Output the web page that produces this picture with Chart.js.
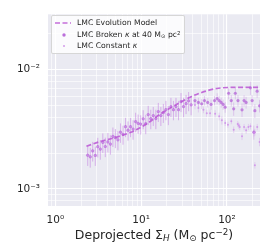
<!DOCTYPE html>
<html>
<head>
<meta charset="utf-8">
<script src="https://cdn.jsdelivr.net/npm/chart.js@4"></script>
<style>
    html, body { margin: 0; padding: 0; background: #fff; }
    #wrap { position: relative; width: 266px; height: 244px; font-family: 'DejaVu Sans', sans-serif; color: #262626; }
    #chart { position: absolute; left: 0; top: 0; }
    .legend { position: absolute; left: 51px; top: 15px; width: 134px; height: 39px; box-sizing: border-box;
              background: rgba(255,255,255,0.8); border: 1px solid rgba(204,204,204,0.8); border-radius: 2px; font-size: 7.7px; }
    .legend .row { position: absolute; left: 0; width: 100%; height: 10px; line-height: 10px; white-space: nowrap; }
    .legend .txt { position: absolute; left: 25px; top: 0; }
    .legend svg { position: absolute; left: 2px; top: 0; }
    .sub { font-size: 0.7em; position: relative; top: 0.25em; }
    .sup { font-size: 0.7em; position: relative; top: -0.45em; }
    .xlabel { position: absolute; left: 48px; width: 212px; top: 227px; text-align: center; font-size: 12.5px; line-height: 15px; white-space: nowrap; }
</style>
</head>
<body>
<div id="wrap">
    <canvas id="chart" width="266" height="244"></canvas>
    <div class="legend">
        <div class="row" style="top:2px">
            <svg width="20" height="10"><line x1="1" y1="5" x2="17" y2="5" stroke="rgba(186,85,211,0.85)" stroke-width="1.6" stroke-dasharray="5,2.5"/></svg>
            <span class="txt">LMC Evolution Model</span>
        </div>
        <div class="row" style="top:14px">
            <svg width="20" height="10"><circle cx="10" cy="5" r="1.7" fill="rgba(170,75,210,0.8)"/></svg>
            <span class="txt">LMC Broken <i>κ</i> at 40 M<span class="sub">⊙</span> pc<span class="sup">2</span></span>
        </div>
        <div class="row" style="top:25px">
            <svg width="20" height="10"><circle cx="10" cy="5" r="1" fill="rgba(200,130,230,0.8)"/></svg>
            <span class="txt">LMC Constant <i>κ</i></span>
        </div>
    </div>
    <div class="xlabel">Deprojected Σ<span class="sub"><i>H</i></span> (M<span class="sub">⊙</span> pc<span class="sup">−2</span>)</div>
</div>

<script>
// 축 범위
const xMin = 0.82, xMax = 243;
const yMin = 0.00072, yMax = 0.0291;
const xDecades = [0.1, 1, 10, 100];
const yDecades = [0.0001, 0.001, 0.01];

// 모델 곡선
const modelX = [2.3, 3.4, 5.1, 7.6, 11.5, 17.2, 25.8, 38.7, 50.8, 76, 131, 238];
const modelY = [0.00228, 0.00251, 0.00271, 0.00299, 0.0035, 0.0043, 0.0051, 0.00596, 0.00644, 0.00695, 0.0071, 0.0071];

// 40 이하 구간 (두 모델 공통)
const lowX = [2.38, 2.55, 2.72, 2.92, 3.12, 3.34, 3.57, 3.82, 4.09, 4.38, 4.68, 5.01, 5.36, 5.74, 6.14, 6.57, 7.03, 7.52, 8.05, 8.61,
              9.22, 9.87, 10.56, 11.3, 12.09, 12.94, 13.85, 14.82, 15.85, 16.96, 18.15, 19.42, 20.78, 22.24, 23.8, 25.47, 27.25, 29.16, 31.2, 33.39,
              35.73, 38.23];
const lowY = [0.00192, 0.00186, 0.00209, 0.00191, 0.00226, 0.00216, 0.00246, 0.00227, 0.00248, 0.00238, 0.00276, 0.00269, 0.00258, 0.00299, 0.00287, 0.00333, 0.00311, 0.00333, 0.00318, 0.00367,
              0.00355, 0.0035, 0.00387, 0.00353, 0.0042, 0.00389, 0.00412, 0.00389, 0.00445, 0.00412, 0.00437, 0.00462, 0.0042, 0.0049, 0.00462, 0.0049, 0.00462, 0.00539, 0.0049, 0.00519,
              0.00549, 0.00507];
const lowErr = [0.00036, 0.00035, 0.00039, 0.00035, 0.00042, 0.0004, 0.00046, 0.00042, 0.00046, 0.00044, 0.00051, 0.00049, 0.00047, 0.00055, 0.00052, 0.00061, 0.00057, 0.00061, 0.00059, 0.00068,
                0.00065, 0.00064, 0.0007, 0.00065, 0.00077, 0.00072, 0.00075, 0.00072, 0.00081, 0.00075, 0.00079, 0.00085, 0.00077, 0.0009, 0.00085, 0.0009, 0.00085, 0.00098, 0.0009, 0.00095,
                0.001, 0.00092];

// Broken kappa (40 이상)
const brokenHiX = [42.4, 46.5, 50.8, 54.7, 59.7, 65.3, 71.7, 76.9, 81.2, 85.7, 90.4, 95.4, 104.7, 112.4, 119.9, 125.3, 134.6, 150, 158.5, 167.4, 188, 196.8, 206, 211.7, 225, 239.9];
const brokenHiY = [0.00551, 0.00531, 0.00518, 0.00551, 0.00531, 0.00511, 0.00551, 0.00573, 0.00551, 0.00531, 0.00511, 0.00485, 0.00634, 0.00551, 0.0047, 0.00634, 0.00551, 0.00461, 0.00551, 0.00531, 0.00704, 0.00551, 0.00299, 0.00453, 0.0066, 0.00498];
const brokenHiErr = [0.0005, 0.0005, 0.0005, 0.0005, 0.0005, 0.0005, 0.0005, 0.0006, 0.0005, 0.0005, 0.0005, 0.0005, 0.0007, 0.0006, 0.0006, 0.0007, 0.0006, 0.0006, 0.0006, 0.0006, 0.0009, 0.0006, 0.0004, 0.0006, 0.0008, 0.0006];

// Constant kappa (40 이상)
const constHiX = [42.4, 46.5, 53.2, 58.2, 63.6, 72.8, 81.2, 87.3, 95.4, 102.8, 112.4, 119.9, 133.6, 137.4, 141, 150, 158.5, 167.4, 178, 188, 206, 211.7, 211.7, 225.4, 240];
const constHiY = [0.00505, 0.00478, 0.00461, 0.00432, 0.00432, 0.00427, 0.00406, 0.00376, 0.00357, 0.00346, 0.00369, 0.00314, 0.0035, 0.0034, 0.00331, 0.00277, 0.00331, 0.0031, 0.00331, 0.00335, 0.00295, 0.00299, 0.00158, 0.00331, 0.00248];
const constHiErr = [0.0004, 0.0004, 0.0003, 0.0003, 0.0003, 0.0003, 0.0003, 0.0003, 0.0002, 0.0002, 0.0002, 0.0002, 0.0002, 0.0002, 0.0002, 0.0002, 0.0002, 0.0002, 0.0002, 0.0002, 0.0002, 0.0002, 0.0001, 0.0002, 0.0002];

const brokenX = lowX.concat(brokenHiX), brokenY = lowY.concat(brokenHiY), brokenErr = lowErr.concat(brokenHiErr);
const constX = lowX.concat(constHiX), constY = lowY.concat(constHiY), constErr = lowErr.concat(constHiErr);

function toPoints(xs, ys) {
    return xs.map((x, i) => ({ x: x, y: ys[i] }));
}

// 에러바: 세로 선분 + null 로 끊기
function errSegments(xs, ys, es) {
    const out = [];
    xs.forEach((x, i) => {
        out.push({ x: x, y: ys[i] - es[i] }, { x: x, y: ys[i] + es[i] }, { x: x, y: null });
    });
    return out;
}

function logTicks(decades, min, max) {
    const t = [];
    decades.forEach(d => {
        for (let m = 1; m <= 9; m++) {
            const v = +(d * m).toPrecision(6);
            if (v >= min && v <= max) t.push(v);
        }
    });
    return t;
}

function isPow10(v) {
    const e = Math.log10(v);
    return Math.abs(e - Math.round(e)) < 1e-9;
}

const supMap = { '-': '⁻', '0': '⁰', '1': '¹', '2': '²', '3': '³', '4': '⁴', '5': '⁵', '6': '⁶', '7': '⁷', '8': '⁸', '9': '⁹' };
function powLabel(v) {
    if (!isPow10(v)) return '';
    return '10' + String(Math.round(Math.log10(v))).split('').map(c => supMap[c]).join('');
}

const bgPlugin = {
    id: 'bg',
    beforeDraw(chart) {
        const a = chart.chartArea, ctx = chart.ctx;
        ctx.save();
        ctx.fillStyle = '#EAEAF2';
        ctx.fillRect(a.left, a.top, a.right - a.left, a.bottom - a.top);
        ctx.restore();
    }
};

Chart.defaults.font.family = "'DejaVu Sans', sans-serif";
Chart.defaults.color = '#262626';

const gridOpts = {
    color: '#ffffff',
    lineWidth: ctx => (ctx.tick && isPow10(ctx.tick.value)) ? 1.1 : 0.6,
    drawTicks: false
};

new Chart(document.getElementById('chart'), {
    type: 'scatter',
    data: {
        datasets: [{
            type: 'line',
            label: 'LMC Evolution Model',
            data: toPoints(modelX, modelY),
            borderColor: 'rgba(186,85,211,0.85)',
            borderWidth: 1.7,
            borderDash: [5, 2.5],
            pointRadius: 0,
            cubicInterpolationMode: 'monotone',
            fill: false,
            order: 0
        }, {
            label: 'LMC Constant κ',
            data: toPoints(constX, constY),
            backgroundColor: 'rgba(205,140,232,0.8)',
            borderWidth: 0,
            pointRadius: 1,
            order: 1
        }, {
            label: 'LMC Broken κ at 40',
            data: toPoints(brokenX, brokenY),
            backgroundColor: 'rgba(170,75,210,0.6)',
            borderWidth: 0,
            pointRadius: 1.6,
            order: 2
        }, {
            type: 'line',
            label: 'const err',
            data: errSegments(constX, constY, constErr),
            borderColor: 'rgba(205,150,232,0.35)',
            borderWidth: 1,
            pointRadius: 0,
            spanGaps: false,
            order: 3
        }, {
            type: 'line',
            label: 'broken err',
            data: errSegments(brokenX, brokenY, brokenErr),
            borderColor: 'rgba(186,110,220,0.3)',
            borderWidth: 1,
            pointRadius: 0,
            spanGaps: false,
            order: 4
        }]
    },
    options: {
        responsive: false,
        animation: false,
        devicePixelRatio: 1,
        layout: { padding: { top: 13, right: 6, left: 0, bottom: 0 } },
        plugins: { legend: { display: false }, tooltip: { enabled: false } },
        scales: {
            x: {
                type: 'logarithmic',
                min: xMin,
                max: xMax,
                afterBuildTicks: s => { s.ticks = logTicks(xDecades, xMin, xMax).map(v => ({ value: v })); },
                afterFit: s => { s.height = 38; },
                grid: gridOpts,
                border: { display: false },
                ticks: { autoSkip: false, maxRotation: 0, padding: 8, font: { size: 10.5 }, callback: v => powLabel(v) }
            },
            y: {
                type: 'logarithmic',
                min: yMin,
                max: yMax,
                afterBuildTicks: s => { s.ticks = logTicks(yDecades, yMin, yMax).map(v => ({ value: v })); },
                afterFit: s => { s.width = 48; },
                grid: gridOpts,
                border: { display: false },
                ticks: { autoSkip: false, padding: 8, font: { size: 10.5 }, callback: v => powLabel(v) }
            }
        }
    },
    plugins: [bgPlugin]
});
</script>
</body>
</html>
